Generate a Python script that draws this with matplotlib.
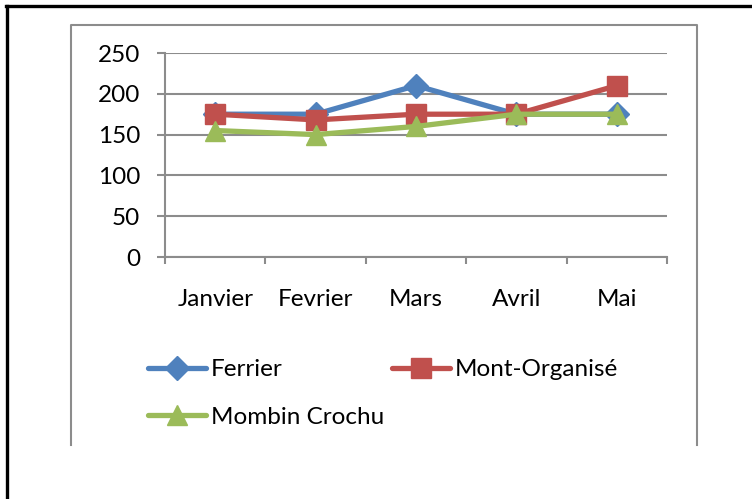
import matplotlib
matplotlib.use("Agg")
import matplotlib.pyplot as plt
from matplotlib.lines import Line2D

months = ["Janvier", "Fevrier", "Mars", "Avril", "Mai"]
ferrier = [175, 175, 210, 175, 175]
mont_organise = [175, 168, 175, 175, 210]
mombin_crochu = [155, 150, 160, 175, 175]
yticks = [0, 50, 100, 150, 200, 250]

plt.rcParams['font.family'] = ['Lato', 'DejaVu Sans']

W, H = 752, 499
fig = plt.figure(figsize=(W/100, H/100), dpi=100)
fig.patch.set_facecolor("white")

def fx(x): return x / W
def fy(y): return 1 - y / H

# outer black border (left and top)
fig.add_artist(Line2D([fx(7), fx(7)], [fy(6), fy(499)], color="black", lw=2.4, transform=fig.transFigure))
fig.add_artist(Line2D([fx(6), fx(752)], [fy(6), fy(6)], color="black", lw=2.4, transform=fig.transFigure))
# inner grey frame (no bottom)
gc = "#8c8c8c"
fig.add_artist(Line2D([fx(71), fx(71), fx(697), fx(697)], [fy(445), fy(25), fy(25), fy(445)],
                      color=gc, lw=1.5, transform=fig.transFigure))

ax = fig.add_axes([fx(165), fy(257), fx(667) - fx(165), fy(53) - fy(257)])
x = list(range(len(months)))
colors = {"Ferrier": "#4F81BD", "Mont-Organisé": "#C0504D", "Mombin Crochu": "#9BBB59"}
lw = 3.8
h1, = ax.plot(x, ferrier, color=colors["Ferrier"], lw=lw, marker="D", ms=12, label="Ferrier", solid_capstyle="round")
h2, = ax.plot(x, mont_organise, color=colors["Mont-Organisé"], lw=lw, marker="s", ms=14.5, label="Mont-Organisé", solid_capstyle="round")
h3, = ax.plot(x, mombin_crochu, color=colors["Mombin Crochu"], lw=lw, marker="^", ms=15, label="Mombin Crochu", solid_capstyle="round")

ax.set_xlim(-0.5, len(months) - 0.5)
ax.set_ylim(0, 250)
ax.set_yticks(yticks)
ax.set_xticks(x)
ax.set_xticklabels(months)
ax.set_xticks([i - 0.5 for i in range(len(months) + 1)], minor=True)
ax.yaxis.grid(True, color=gc, lw=1.5)
ax.set_axisbelow(True)
for s in ["top", "right"]:
    ax.spines[s].set_visible(False)
for s in ["left", "bottom"]:
    ax.spines[s].set_color(gc)
    ax.spines[s].set_linewidth(1.5)
fs = 17.5
ax.tick_params(axis="y", length=6, width=1.5, color=gc, pad=12, labelsize=fs)
ax.tick_params(axis="x", which="major", length=0, pad=23, labelsize=fs)
ax.tick_params(axis="x", which="minor", length=5, width=1.5, color=gc)

leg = ax.legend([h1, h3, h2], ["Ferrier", "Mombin Crochu", "Mont-Organisé"], ncol=2,
                loc="upper left", bbox_to_anchor=(fx(148), fy(359)), bbox_transform=fig.transFigure,
                frameon=False, fontsize=fs, handlelength=2.4, handletextpad=0.2,
                columnspacing=0.3, labelspacing=1.1, borderpad=0, borderaxespad=0)

fig.savefig("out.png", dpi=100)
